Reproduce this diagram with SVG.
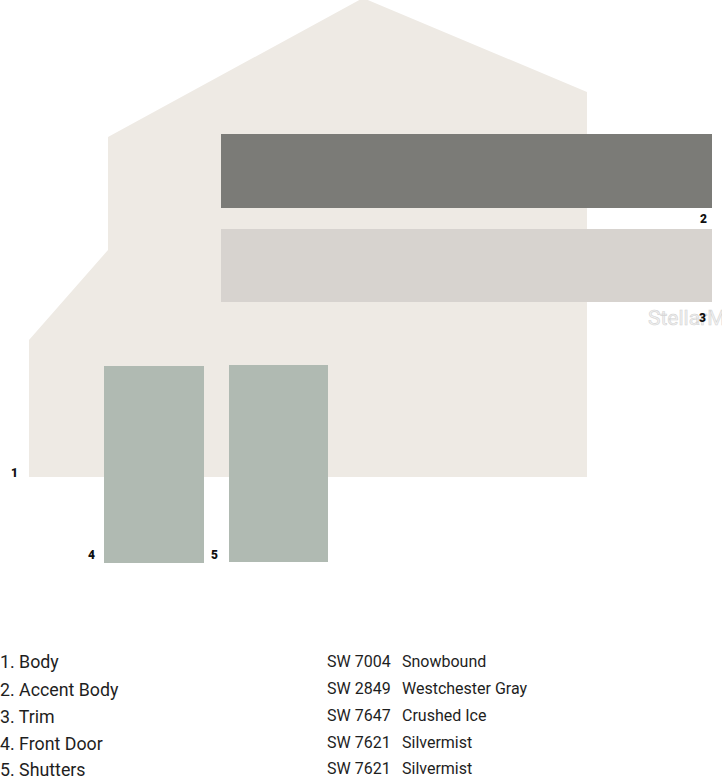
<svg xmlns="http://www.w3.org/2000/svg" width="722" height="778" viewBox="0 0 722 778">
<style>
.num{font-family:Roboto,"Liberation Sans",sans-serif;font-weight:900;font-size:12px;fill:#111}
.leg{font-family:Roboto,"Liberation Sans",sans-serif;font-size:17.8px;fill:#1e1e1e}
.code{font-family:Roboto,"Liberation Sans",sans-serif;font-size:16px;fill:#1e1e1e}
</style>
<rect width="722" height="778" fill="#ffffff"/>
<g id="body">
<polygon points="363,-2 587,92 587,477 29,477 29,340 108,250 108,137" fill="#eeeae4"/>
<text class="num" x="11" y="477">1</text>
</g>
<g id="accent-body">
<rect x="221" y="134" width="491" height="74" fill="#7b7b77"/>
<text class="num" x="700" y="223">2</text>
</g>
<g id="trim">
<rect x="221" y="229" width="491" height="73" fill="#d7d3cf"/>
<text x="648" y="325" font-family="Roboto,'Liberation Sans',sans-serif" font-size="21" fill="#f2f2f2" stroke="#d4d4d4" stroke-width="0.6">StellarMLS</text>
<text class="num" x="699" y="322">3</text>
</g>
<g id="front-door">
<rect x="104" y="366" width="100" height="197" fill="#b0bab2"/>
<text class="num" x="88" y="559">4</text>
</g>
<g id="shutters">
<rect x="229" y="365" width="99" height="197" fill="#b0bab2"/>
<text class="num" x="211" y="559">5</text>
</g>
<g id="connectors"></g>
<g id="legend">
<text class="leg" x="0" y="668">1. Body</text>
<text class="leg" x="0" y="696">2. Accent Body</text>
<text class="leg" x="0" y="723">3. Trim</text>
<text class="leg" x="0" y="750">4. Front Door</text>
<text class="leg" x="0" y="776">5. Shutters</text>
<text class="code" x="327" y="667">SW 7004</text>
<text class="code" x="402" y="667">Snowbound</text>
<text class="code" x="327" y="694">SW 2849</text>
<text class="code" x="402" y="694">Westchester Gray</text>
<text class="code" x="327" y="721">SW 7647</text>
<text class="code" x="402" y="721">Crushed Ice</text>
<text class="code" x="327" y="748">SW 7621</text>
<text class="code" x="402" y="748">Silvermist</text>
<text class="code" x="327" y="774">SW 7621</text>
<text class="code" x="402" y="774">Silvermist</text>
</g>
</svg>
